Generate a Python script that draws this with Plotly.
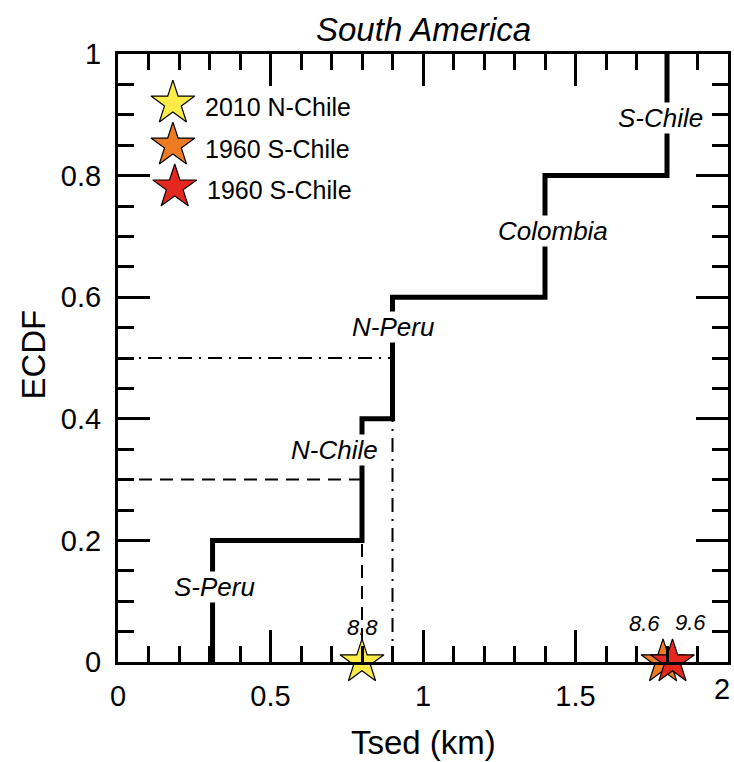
import plotly.graph_objects as go

# ---- data ----
regions = ["S-Peru", "N-Chile", "N-Peru", "Colombia", "S-Chile"]
tsed = [0.31, 0.80, 0.90, 1.40, 1.80]
ecdf = [0.2, 0.4, 0.6, 0.8, 1.0]

# percentile guides
p30_x = 0.80
p30_y = 0.30
p50_x = 0.90
p50_y = 0.50

quake_names = ["2010 N-Chile", "1960 S-Chile", "1960 S-Chile"]
quake_tsed = [0.80, 1.787, 1.818]
quake_mag = ["8.8", "8.6", "9.6"]
quake_colors = ["#FDEB48", "#EE7A24", "#E4271F"]

xtick_vals = [0, 0.5, 1, 1.5, 2]
xtick_text = ["0", "0.5", "1", "1.5", "2"]
ytick_vals = [0, 0.2, 0.4, 0.6, 0.8, 1]
ytick_text = ["0", "0.2", "0.4", "0.6", "0.8", "1"]

# label positions (x, y) for region names
label_pos = [(0.318, 0.123), (0.711, 0.349), (0.902, 0.551), (1.426, 0.709), (1.78, 0.895)]

FONT = "Liberation Sans, Arial, Helvetica, sans-serif"

# build step path
sx, sy = [tsed[0]], [0.0]
prev = 0.0
for i, (x, y) in enumerate(zip(tsed, ecdf)):
    sx += [x, x]
    sy += [prev, y]
    if i + 1 < len(tsed):
        sx.append(tsed[i + 1])
        sy.append(y)
    prev = y

fig = go.Figure()

# dashed guide (30%)
fig.add_trace(go.Scatter(x=[0, p30_x, None, p30_x, p30_x], y=[p30_y, p30_y, None, 0, ecdf[0]],
                         mode="lines", line=dict(color="black", width=2, dash="13px,8px"),
                         hoverinfo="skip", showlegend=False))
# dash-dot guide (50%)
fig.add_trace(go.Scatter(x=[0, p50_x, None, p50_x, p50_x], y=[p50_y, p50_y, None, 0, ecdf[1]],
                         mode="lines", line=dict(color="black", width=2, dash="14px,7px,2px,7px"),
                         hoverinfo="skip", showlegend=False))
# ECDF step
fig.add_trace(go.Scatter(x=sx, y=sy, mode="lines", line=dict(color="black", width=5),
                         hoverinfo="skip", showlegend=False))

STAR = 33
# quake stars
for name, xq, col in zip(quake_names, quake_tsed, quake_colors):
    fig.add_trace(go.Scatter(x=[xq], y=[0], mode="markers", cliponaxis=False,
                             marker=dict(symbol="star", size=STAR, color=col,
                                         line=dict(color="black", width=1.2)),
                             name=name, showlegend=False))

# legend stars on overlay axes (paper-like 0..1)
leg_x = [0.090, 0.090, 0.093]
leg_y = [0.919, 0.850, 0.781]
leg_tx = [0.139, 0.139, 0.143]
leg_ty = [0.913, 0.843, 0.776]
for name, col, lx, ly in zip(quake_names, quake_colors, leg_x, leg_y):
    fig.add_trace(go.Scatter(x=[lx], y=[ly], mode="markers", xaxis="x2", yaxis="y2",
                             marker=dict(symbol="star", size=STAR, color=col,
                                         line=dict(color="black", width=1.2)),
                             hoverinfo="skip", showlegend=False, cliponaxis=False))

annotations = []
for name, tx, ty in zip(quake_names, leg_tx, leg_ty):
    annotations.append(dict(x=tx, y=ty, xref="paper", yref="paper", text=name,
                            showarrow=False, xanchor="left", yanchor="middle",
                            font=dict(family=FONT, size=25, color="black")))

for name, (lx, ly) in zip(regions, label_pos):
    annotations.append(dict(x=lx, y=ly, xref="x", yref="y", text="<i>%s</i>" % name,
                            showarrow=False, bgcolor="white", borderpad=0,
                            font=dict(family=FONT, size=26, color="black")))

mag_offsets = [0.0, -0.06, 0.06]
mag_shift = [20, 24, 25]
for xq, m, dx, ys in zip(quake_tsed, quake_mag, mag_offsets, mag_shift):
    annotations.append(dict(x=xq + dx, y=0, xref="x", yref="y", text="<i>%s</i>" % m,
                            showarrow=False, yanchor="bottom", yshift=ys,
                            font=dict(family=FONT, size=22, color="black")))

# last x tick label, kept inside the page edge
annotations.append(dict(x=xtick_vals[-1], y=0, xref="x", yref="y", text=xtick_text[-1],
                        showarrow=False, xanchor="right", yanchor="top", yshift=-10, xshift=3,
                        borderpad=0,
                        font=dict(family=FONT, size=29, color="black")))

annotations.append(dict(x=0.5, y=1.041, xref="paper", yref="paper", text="<i>South America</i>",
                        showarrow=False, yanchor="middle",
                        font=dict(family=FONT, size=33, color="black")))
annotations.append(dict(x=0.5, y=-0.1316, xref="paper", yref="paper", text="Tsed (km)",
                        showarrow=False, yanchor="middle",
                        font=dict(family=FONT, size=33, color="black")))
annotations.append(dict(x=-0.139, y=0.506, xref="paper", yref="paper", text="ECDF",
                        showarrow=False, textangle=-90, xanchor="center", yanchor="middle",
                        font=dict(family=FONT, size=33, color="black")))

axis_common = dict(showgrid=False, zeroline=False, showline=True, linecolor="black",
                   linewidth=3, mirror="ticks", ticks="inside", ticklen=32, tickwidth=2.5,
                   tickcolor="black", automargin=False,
                   tickfont=dict(family=FONT, size=29, color="black"))

fig.update_layout(
    width=734, height=762,
    margin=dict(l=118, r=6, t=54, b=100, autoexpand=False),
    paper_bgcolor="white", plot_bgcolor="white",
    xaxis=dict(range=[0, 2], tickvals=xtick_vals, ticktext=xtick_text,
               minor=dict(dtick=0.1, ticks="inside", ticklen=16, tickwidth=2.5, tickcolor="black"),
               ticklabelstandoff=6,
               **axis_common),
    yaxis=dict(range=[0, 1], tickvals=ytick_vals, ticktext=ytick_text,
               minor=dict(dtick=0.05, ticks="inside", ticklen=16, tickwidth=2.5, tickcolor="black"),
               ticklabelstandoff=8,
               **axis_common),
    xaxis2=dict(range=[0, 1], overlaying="x", visible=False),
    yaxis2=dict(range=[0, 1], overlaying="y", visible=False),
    annotations=annotations,
    showlegend=False,
)

fig.write_html("out.html")
